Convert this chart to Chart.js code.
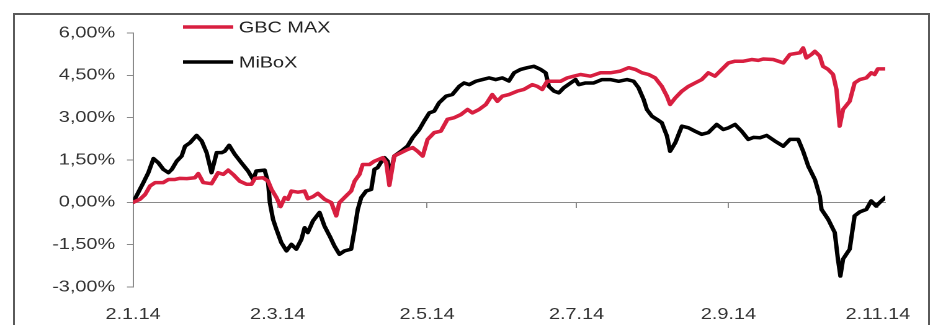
<!DOCTYPE html>
<html>
<head>
<meta charset="utf-8">
<title>GBC MAX vs MiBoX</title>
<script src="https://cdn.jsdelivr.net/npm/chart.js@4.4.1/dist/chart.umd.min.js"></script>
<style>
  html, body { margin: 0; padding: 0; background: #fff; overflow: hidden; }
  #frame { position: absolute; left: 13px; top: 13px; width: 917px; height: 400px; border: 2px solid #5a5a5a; box-sizing: border-box; }
  /* the source picture is stretched sideways, so the whole chart is too */
  #wrap { position: absolute; left: 0; top: 0; width: 752px; height: 325px; transform: scaleX(1.2407); transform-origin: 0 0; }
</style>
</head>
<body>
<div id="frame"></div>
<div id="wrap"><canvas id="chart" width="752" height="325"></canvas></div>
<script>
// data: days after 2.1.14, performance in %
const seriesNames = ['GBC MAX', 'MiBoX'];
const seriesColors = ['#d81f40', '#000000'];

const gbcDays = [0, 2.8, 4.9, 6.9, 9.0, 12.3, 14.4, 17.1, 19.1, 21.9, 25.2, 26.6, 28.6, 32.0, 34.7, 36.8, 38.8, 40.8, 43.5, 46.3,
  48.3, 49.7, 53.0, 55.1, 56.5, 58.5, 60.2, 61.9, 63.2, 64.6, 67.3, 70.0, 71.3, 73.4, 75.4, 78.1, 80.9, 82.9, 84.2, 86.3,
  89.0, 90.4, 92.4, 93.7, 96.5, 98.5, 101.9, 103.3, 104.6, 106.6, 109.4, 112.0, 114.1, 116.1, 118.2, 120.2, 122.9, 125.6, 128.3, 131.1,
  133.8, 136.5, 138.5, 141.2, 144.0, 146.6, 148.7, 150.7, 153.4, 156.8, 159.5, 162.9, 165.0, 167.0, 169.0, 171.8, 174.5, 177.2, 179.9, 182.6,
  186.7, 190.8, 194.8, 198.9, 202.3, 205.0, 207.7, 210.4, 213.1, 215.8, 217.9, 219.2, 221.3, 224.0, 226.7, 229.4, 232.1, 234.8, 237.5, 240.3,
  243.0, 245.7, 249.1, 252.5, 255.2, 257.2, 261.3, 265.4, 268.1, 272.2, 273.5, 274.8, 276.9, 278.3, 280.3, 281.6, 283.7, 285.7, 287.1, 288.4,
  289.8, 292.5, 294.5, 296.6, 299.3, 301.3, 302.7, 304.0, 306.8];
const gbcPct = [0, 0.11, 0.28, 0.58, 0.70, 0.70, 0.81, 0.81, 0.85, 0.84, 0.87, 1.02, 0.70, 0.66, 1.05, 0.99, 1.14, 0.99, 0.75, 0.64,
  0.64, 0.85, 0.87, 0.75, 0.46, 0.17, -0.15, 0.17, 0.11, 0.40, 0.36, 0.40, 0.13, 0.20, 0.32, 0.11, -0.01, -0.48, -0.01, 0.17,
  0.40, 0.75, 0.99, 1.34, 1.34, 1.46, 1.58, 1.40, 0.60, 1.64, 1.76, 1.87, 1.94, 1.81, 1.64, 2.23, 2.47, 2.52, 2.94, 3.00,
  3.11, 3.29, 3.17, 3.29, 3.47, 3.82, 3.58, 3.76, 3.82, 3.94, 4.00, 4.17, 4.11, 4.00, 4.29, 4.29, 4.29, 4.41, 4.47, 4.53,
  4.47, 4.59, 4.59, 4.65, 4.77, 4.71, 4.59, 4.53, 4.41, 4.11, 3.76, 3.47, 3.70, 3.94, 4.11, 4.23, 4.35, 4.59, 4.47, 4.71,
  4.94, 5.00, 5.00, 5.06, 5.03, 5.08, 5.06, 4.94, 5.24, 5.30, 5.47, 5.12, 5.24, 5.35, 5.18, 4.82, 4.71, 4.53, 4.00, 2.70,
  3.29, 3.58, 4.23, 4.35, 4.41, 4.59, 4.53, 4.73, 4.73];

const miboxDays = [0, 4.2, 6.2, 8.3, 10.3, 12.3, 14.4, 15.8, 17.8, 19.8, 21.2, 23.2, 25.9, 28.0, 30.0, 32.0, 34.1, 36.1, 37.4, 39.2,
  41.5, 44.2, 46.9, 49.0, 50.3, 53.7, 55.1, 55.8, 57.1, 58.5, 60.5, 62.6, 64.6, 66.6, 68.7, 70.0, 71.3, 73.4, 76.1, 78.1,
  80.2, 82.2, 84.2, 86.3, 89.0, 90.4, 91.7, 93.1, 95.1, 97.2, 98.5, 99.8, 101.9, 102.6, 103.9, 104.8, 106.6, 109.4, 112.0, 114.1,
  116.8, 118.8, 120.9, 122.9, 124.9, 127.7, 130.3, 133.1, 135.1, 137.2, 139.9, 142.6, 145.3, 148.0, 150.7, 153.4, 155.5, 158.2, 160.9, 163.6,
  166.3, 168.4, 169.7, 171.8, 173.8, 175.8, 178.6, 180.6, 181.9, 184.7, 188.0, 191.4, 194.8, 198.2, 201.6, 204.3, 206.3, 208.4, 209.7, 211.8,
  213.8, 215.8, 217.9, 219.2, 221.3, 224.0, 226.7, 229.4, 232.1, 234.8, 238.2, 240.9, 243.0, 245.7, 248.4, 251.1, 253.2, 255.9, 258.6, 262.0,
  265.4, 268.1, 271.5, 273.5, 275.6, 278.3, 280.3, 281.0, 283.7, 286.4, 287.7, 288.7, 289.8, 292.5, 294.5, 296.6, 299.3, 301.3, 303.3, 305.4,
  307.0];
const miboxPct = [0, 0.70, 1.05, 1.55, 1.40, 1.17, 1.05, 1.17, 1.46, 1.64, 1.99, 2.11, 2.37, 2.17, 1.76, 1.05, 1.76, 1.76, 1.81, 2.02,
  1.70, 1.40, 1.11, 0.81, 1.11, 1.14, 0.70, 0.00, -0.60, -0.96, -1.43, -1.72, -1.49, -1.66, -1.31, -0.90, -1.07, -0.66, -0.36, -0.84,
  -1.19, -1.55, -1.84, -1.72, -1.66, -0.96, -0.25, 0.17, 0.40, 0.46, 1.17, 1.23, 1.52, 1.58, 1.46, 0.92, 1.64, 1.81, 1.99, 2.29,
  2.58, 2.88, 3.17, 3.23, 3.53, 3.76, 3.82, 4.11, 4.23, 4.17, 4.29, 4.35, 4.41, 4.35, 4.41, 4.30, 4.59, 4.71, 4.77, 4.82,
  4.71, 4.59, 4.11, 3.94, 3.88, 4.06, 4.23, 4.35, 4.17, 4.23, 4.23, 4.35, 4.35, 4.29, 4.35, 4.29, 4.06, 3.64, 3.29, 3.05,
  2.94, 2.82, 2.35, 1.81, 2.11, 2.70, 2.64, 2.52, 2.41, 2.47, 2.76, 2.58, 2.64, 2.76, 2.52, 2.23, 2.30, 2.29, 2.37, 2.17,
  1.99, 2.23, 2.23, 1.81, 1.28, 0.81, 0.22, -0.25, -0.60, -1.07, -2.01, -2.61, -2.01, -1.66, -0.48, -0.34, -0.25, 0.05, -0.13, 0.05,
  0.17];

const dateLabels = ['2.1.14', '2.3.14', '2.5.14', '2.7.14', '2.9.14', '2.11.14'];
const lastDay = 307;
const yMin = -3, yMax = 6, yStep = 1.5;

// day number of a d.m.yy label, counted from the first label
function dayOf(label) {
  const [d, m, y] = label.split('.').map(Number);
  const [d0, m0, y0] = dateLabels[0].split('.').map(Number);
  return (Date.UTC(2000 + y, m - 1, d) - Date.UTC(2000 + y0, m0 - 1, d0)) / 86400000;
}
const tickDays = dateLabels.map(dayOf);

function toPoints(days, values) {
  return days.map((d, i) => ({ x: d, y: values[i] }));
}

const fontMain = { family: "'Liberation Sans', Arial, sans-serif", size: 16 };

// legend drawn as a list at the top left of the plot
const listLegend = {
  id: 'listLegend',
  afterDraw(chart) {
    const ctx = chart.ctx;
    const rows = [27, 62];
    ctx.save();
    chart.data.datasets.forEach((ds, i) => {
      ctx.strokeStyle = ds.borderColor;
      ctx.lineWidth = 3.5;
      ctx.beginPath();
      ctx.moveTo(147.5, rows[i]);
      ctx.lineTo(188, rows[i]);
      ctx.stroke();
      ctx.fillStyle = '#222';
      ctx.font = "16px 'Liberation Sans', Arial, sans-serif";
      ctx.textBaseline = 'middle';
      ctx.fillText(ds.label, 192.5, rows[i] + 1);
    });
    ctx.restore();
  }
};

function setDateTicks(scale) {
  scale.ticks = tickDays.map(v => ({ value: v }));
}

new Chart(document.getElementById('chart'), {
  type: 'line',
  data: {
    datasets: [
      { label: seriesNames[0], data: toPoints(gbcDays, gbcPct), borderColor: seriesColors[0] },
      { label: seriesNames[1], data: toPoints(miboxDays, miboxPct), borderColor: seriesColors[1] }
    ]
  },
  options: {
    responsive: false,
    animation: false,
    devicePixelRatio: 2,
    layout: { padding: { top: 33, right: 36.7, bottom: 0, left: 0 } },
    elements: {
      line: { borderWidth: 3.5, tension: 0, borderJoinStyle: 'round', borderCapStyle: 'round' },
      point: { radius: 0 }
    },
    plugins: { legend: { display: false }, tooltip: { enabled: false } },
    scales: {
      // axis line on the 0 % level, with small ticks
      x: {
        type: 'linear',
        position: { y: 0 },
        min: 0,
        max: lastDay,
        afterBuildTicks: setDateTicks,
        ticks: { display: false },
        grid: { drawOnChartArea: false, drawTicks: true, tickLength: 5, tickColor: '#8a8a8a' },
        border: { display: true, color: '#8a8a8a', width: 1 }
      },
      // date labels below the plot
      xLabels: {
        type: 'linear',
        position: 'bottom',
        min: 0,
        max: lastDay,
        afterBuildTicks: setDateTicks,
        afterFit: s => { s.height = 38; },
        ticks: {
          color: '#333',
          font: fontMain,
          padding: 18,
          maxRotation: 0,
          autoSkip: false,
          callback: v => dateLabels[tickDays.indexOf(v)] || ''
        },
        grid: { display: false, drawTicks: false },
        border: { display: false }
      },
      y: {
        min: yMin,
        max: yMax,
        afterFit: s => { s.width = 107.3; },
        ticks: {
          stepSize: yStep,
          color: '#333',
          font: fontMain,
          padding: 9.5,
          callback: v => v.toFixed(2).replace('.', ',') + '%'
        },
        grid: { drawOnChartArea: false, drawTicks: true, tickLength: 5, tickColor: '#8a8a8a' },
        border: { display: true, color: '#8a8a8a', width: 1 }
      }
    }
  },
  plugins: [listLegend]
});
</script>
</body>
</html>
